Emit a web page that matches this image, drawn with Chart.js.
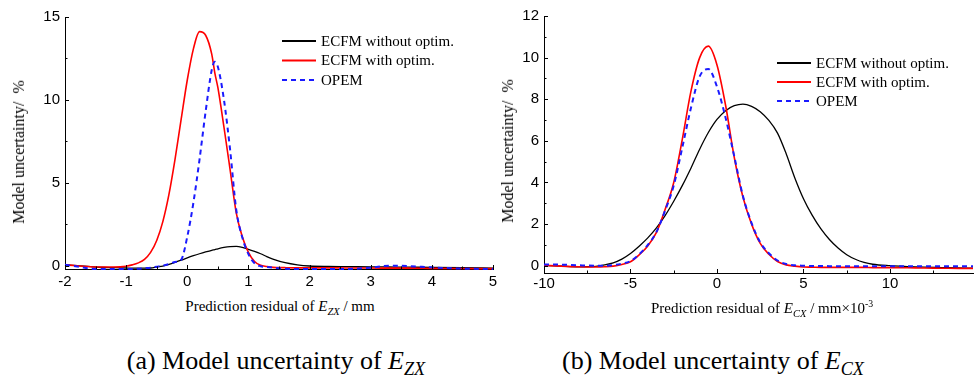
<!DOCTYPE html>
<html>
<head>
<meta charset="utf-8">
<script src="https://cdn.jsdelivr.net/npm/chart.js@4.4.1/dist/chart.umd.min.js"></script>
<style>
    body { margin: 0; background: #fff; }
    #page { position: relative; width: 978px; height: 386px; overflow: hidden; background: #fff; }
    .box { position: absolute; top: 0; }
    .xtitle, .caption, .ytitle {
        position: absolute;
        font-family: "Liberation Serif", "Times New Roman", serif;
        color: #000;
        white-space: nowrap;
    }
    .xtitle { font-size: 15px; top: 298px; transform: translateX(-50%); }
    .caption { font-size: 26px; top: 346px; transform: translateX(-50%); }
    .ytitle { font-size: 16px; line-height: 16px; transform: translate(-50%, -50%) rotate(-90deg); }
    .xtitle sub, .caption sub { font-style: italic; font-size: 70%; vertical-align: -0.35em; }
    .xtitle sup { font-size: 65%; vertical-align: 0.6em; }
</style>
</head>
<body>
<div id="page">
    <div class="box" style="left:0;"><canvas id="chartZX" width="505" height="290"></canvas></div>
    <div class="box" style="left:490px;"><canvas id="chartCX" width="488" height="290"></canvas></div>
    <div class="ytitle" style="left:19px; top:152px;">Model uncertainty/&nbsp; %</div>
    <div class="ytitle" style="left:508px; top:151px;">Model uncertainty/&nbsp; %</div>
    <div class="xtitle" style="left:280px;">Prediction residual of <i>E</i><sub>ZX</sub> / mm</div>
    <div class="xtitle" style="left:762px;">Prediction residual of <i>E</i><sub>CX</sub> / mm&times;10<sup>-3</sup></div>
    <div class="caption" style="left:276px;">(a) Model uncertainty of <i>E</i><sub>ZX</sub></div>
    <div class="caption" style="left:713px;">(b) Model uncertainty of <i>E</i><sub>CX</sub></div>
</div>
<script>
(function() {
    'use strict';

    // ---- data: (a) E_ZX ----
    const zxResidual = [-2, -1.8, -1.5, -1.2, -1.0, -0.9, -0.8, -0.7, -0.6, -0.5, -0.4, -0.3, -0.2, -0.1,
        0, 0.1, 0.2, 0.3, 0.4, 0.45, 0.5, 0.6, 0.7, 0.8, 0.9, 1.0, 1.1, 1.2, 1.3, 1.4, 1.6, 1.8,
        2.0, 2.3, 2.6, 3.0, 3.3, 3.6, 4.0, 4.5, 5.0];
    const zxWithout = [0.05, 0.0, -0.08, -0.12, -0.14, -0.15, -0.15, -0.15, -0.14, -0.08, -0.02, 0.08, 0.2, 0.33,
        0.47, 0.6, 0.72, 0.83, 0.93, 0.97, 1.02, 1.1, 1.15, 1.16, 1.1, 0.98, 0.86, 0.72, 0.55, 0.4, 0.18, 0.05,
        -0.02, -0.05, -0.06, -0.07, -0.08, -0.09, -0.1, -0.12, -0.15];
    const zxWith = [0.05, 0.0, -0.08, -0.08, -0.03, 0.05, 0.17, 0.38, 0.8, 1.52, 2.66, 4.3, 6.43, 8.84,
        11.2, 13.08, 14.12, 13.9, 12.76, 11.63, 10.75, 8.35, 5.8, 3.2, 1.75, 0.8, 0.25, 0.02, -0.05, -0.1, -0.12, -0.13,
        -0.13, -0.13, -0.14, -0.14, -0.15, -0.15, -0.16, -0.17, -0.18];
    const zxOpem = [0.05, -0.05, -0.2, -0.2, -0.2, -0.2, -0.18, -0.15, -0.12, -0.06, 0.0, 0.1, 0.22, 0.36,
        1.75, 3.8, 6.4, 9.3, 11.8, 12.3, 12.0, 10.0, 7.0, 3.4, 1.7, 0.7, 0.15, -0.03, -0.08, -0.12, -0.18, -0.2,
        -0.2, -0.2, -0.2, -0.12, 0.0, -0.02, -0.1, -0.18, -0.2];
    const zxXTicks = [-2, -1, 0, 1, 2, 3, 4, 5];
    const zxYTicks = [0, 5, 10, 15];

    // ---- data: (b) E_CX ----
    const cxResidual = [-10, -9, -8, -7, -6.5, -6, -5.5, -5, -4.5, -4, -3.5, -3, -2.5, -2, -1.5, -1, -0.5,
        0, 0.5, 1, 1.5, 2, 2.5, 3, 3.5, 4, 4.5, 5, 5.5, 6, 6.5, 7, 7.5, 8, 8.5, 9, 10, 11, 12, 13, 14, 14.8];
    const cxWithout = [0.02, -0.02, -0.05, -0.03, 0.04, 0.14, 0.32, 0.59, 0.94, 1.34, 1.82, 2.41, 3.1, 3.86, 4.7, 5.6, 6.4,
        7.03, 7.45, 7.69, 7.77, 7.66, 7.4, 6.98, 6.37, 5.38, 4.22, 3.22, 2.43, 1.78, 1.26, 0.85, 0.53, 0.31, 0.16, 0.07,
        0.0, -0.04, -0.07, -0.09, -0.11, -0.12];
    const cxWith = [0.02, -0.02, -0.05, -0.06, -0.05, -0.02, 0.06, 0.19, 0.52, 0.95, 1.6, 2.7, 4.0, 6.1, 8.4, 10.0, 10.55,
        9.65, 7.7, 5.2, 3.3, 2.0, 1.07, 0.55, 0.2, 0.04, -0.02, -0.06, -0.07, -0.08, -0.08, -0.08, -0.08, -0.08, -0.08,
        -0.09, -0.09, -0.1, -0.11, -0.12, -0.13, -0.13];
    const cxOpem = [0.06, 0.05, 0.02, 0.0, 0.0, 0.03, 0.1, 0.22, 0.55, 1.0, 1.62, 2.65, 3.85, 5.7, 7.6, 9.1, 9.45,
        8.6, 7.1, 5.25, 3.35, 2.05, 1.12, 0.6, 0.25, 0.08, 0.02, 0.0, -0.01, -0.01, -0.02, -0.02, -0.02, -0.02, -0.02,
        -0.02, -0.02, -0.02, -0.02, -0.02, -0.02, -0.02];
    const cxXTicks = [-10, -5, 0, 5, 10];
    const cxYTicks = [0, 2, 4, 6, 8, 10, 12];

    const seriesLabels = ['ECFM without optim.', 'ECFM with optim.', 'OPEM'];

    const SERIF = '"Liberation Serif", "Times New Roman", serif';
    const SANS = '"Liberation Sans", Arial, sans-serif';

    function toPoints(xs, ys) {
        return xs.map((x, i) => ({ x: x, y: ys[i] }));
    }

    function fixedTicks(values) {
        return function(scale) {
            scale.ticks = values.map(v => ({ value: v }));
        };
    }

    /**
     * Legend drawn inside the plot area, lines + labels
     */
    const innerLegend = {
        id: 'innerLegend',
        afterDraw(chart, args, opts) {
            const ctx = chart.ctx;
            ctx.save();
            ctx.font = '15px ' + SERIF;
            ctx.textBaseline = 'middle';
            ctx.fillStyle = '#000';
            chart.data.datasets.forEach((ds, i) => {
                const y = opts.y + i * opts.gap;
                ctx.beginPath();
                ctx.strokeStyle = ds.borderColor;
                ctx.lineWidth = 2.2;
                ctx.setLineDash(ds.borderDash || []);
                ctx.moveTo(opts.x, y);
                ctx.lineTo(opts.x + 34, y);
                ctx.stroke();
                ctx.setLineDash([]);
                ctx.fillText(ds.label, opts.x + 39, y + 1);
            });
            ctx.restore();
        }
    };

    /**
     * Major and minor tick marks pointing into the plot
     */
    const inwardTicks = {
        id: 'inwardTicks',
        afterDraw(chart) {
            const ctx = chart.ctx;
            const area = chart.chartArea;
            ctx.save();
            ctx.strokeStyle = '#000';
            ctx.lineWidth = 1;
            ['x', 'y'].forEach(id => {
                const scale = chart.scales[id];
                const vals = scale.ticks.map(t => t.value);
                const step = vals[1] - vals[0];
                const marks = [];
                vals.forEach(v => marks.push([v, 4]));
                for (let v = vals[0] - step / 2; v <= scale.max; v += step) {
                    if (v >= scale.min) marks.push([v, 2.5]);
                }
                marks.forEach(([v, len]) => {
                    const p = Math.round(scale.getPixelForValue(v)) + 0.5;
                    ctx.beginPath();
                    if (id === 'x') {
                        ctx.moveTo(p, area.bottom);
                        ctx.lineTo(p, area.bottom - len);
                    } else {
                        ctx.moveTo(area.left, p);
                        ctx.lineTo(area.left + len, p);
                    }
                    ctx.stroke();
                });
            });
            ctx.restore();
        }
    };

    function makeChart(canvasId, cfg) {
        const ctx = document.getElementById(canvasId).getContext('2d');
        const lines = [
            { label: seriesLabels[0], data: toPoints(cfg.xs, cfg.without), borderColor: '#000000', borderWidth: 1.3, order: 3 },
            { label: seriesLabels[1], data: toPoints(cfg.xs, cfg.withOpt), borderColor: '#ff0000', borderWidth: 1.6, order: 2 },
            { label: seriesLabels[2], data: toPoints(cfg.xs, cfg.opem), borderColor: '#1a1aff', borderWidth: 2, borderDash: [5, 4], order: 1 }
        ];
        lines.forEach(ds => {
            ds.pointRadius = 0;
            ds.fill = false;
            ds.cubicInterpolationMode = 'monotone';
            ds.clip = 3;
        });

        return new Chart(ctx, {
            type: 'line',
            data: { datasets: lines },
            options: {
                responsive: false,
                animation: false,
                events: [],
                layout: { padding: cfg.padding },
                plugins: {
                    legend: { display: false },
                    tooltip: { enabled: false },
                    innerLegend: cfg.legend
                },
                scales: {
                    x: {
                        type: 'linear',
                        min: cfg.xMin,
                        max: cfg.xMax,
                        afterBuildTicks: fixedTicks(cfg.xTicks),
                        afterFit: function(scale) { scale.height = cfg.xAxisHeight; },
                        grid: { display: false, drawTicks: false },
                        border: { display: true, color: '#000', width: 1 },
                        ticks: {
                            color: '#000',
                            padding: cfg.xPad,
                            maxRotation: 0,
                            autoSkip: false,
                            font: { family: SANS, size: 15 }
                        }
                    },
                    y: {
                        type: 'linear',
                        min: cfg.yMin,
                        max: cfg.yMax,
                        afterBuildTicks: fixedTicks(cfg.yTicks),
                        afterFit: function(scale) { scale.width = cfg.yAxisWidth; },
                        grid: { display: false, drawTicks: false },
                        border: { display: true, color: '#000', width: 1 },
                        ticks: {
                            color: '#000',
                            padding: 5,
                            font: { family: SANS, size: 15 }
                        }
                    }
                }
            },
            plugins: [innerLegend, inwardTicks]
        });
    }

    document.addEventListener('DOMContentLoaded', function() {
        makeChart('chartZX', {
            xs: zxResidual, without: zxWithout, withOpt: zxWith, opem: zxOpem,
            xMin: -2, xMax: 5, yMin: -0.2, yMax: 15,
            xTicks: zxXTicks, yTicks: zxYTicks,
            yAxisWidth: 65, xAxisHeight: 21, xPad: 4,
            padding: { top: 17, right: 12, bottom: 0, left: 0 },
            legend: { x: 282, y: 41, gap: 19.5 }
        });
        makeChart('chartCX', {
            xs: cxResidual, without: cxWithout, withOpt: cxWith, opem: cxOpem,
            xMin: -10, xMax: 14.8, yMin: -0.35, yMax: 12,
            xTicks: cxXTicks, yTicks: cxYTicks,
            yAxisWidth: 54, xAxisHeight: 17, xPad: 2,
            padding: { top: 16, right: 5, bottom: 0, left: 0 },
            legend: { x: 287, y: 63, gap: 19 }
        });
    });
})();
</script>
</body>
</html>
